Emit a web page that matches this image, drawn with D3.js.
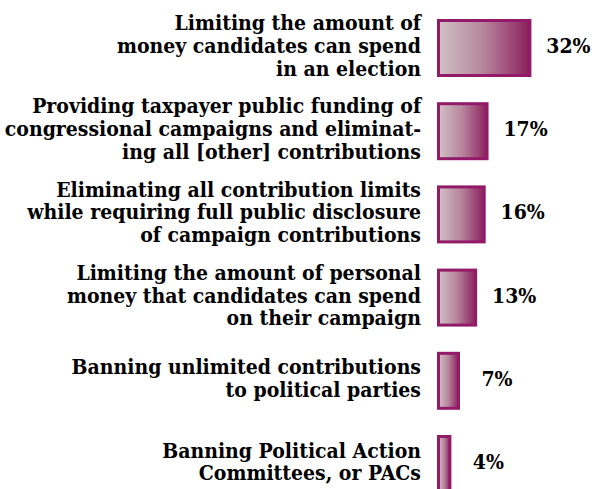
<!DOCTYPE html>
<html>
<head>
<meta charset="utf-8">
<script src="https://cdn.jsdelivr.net/npm/d3@7/dist/d3.min.js"></script>
<style>
  html, body { margin: 0; padding: 0; background: #ffffff; }
  svg { display: block; }
  text { font-family: "DejaVu Serif Condensed", "DejaVu Serif", serif; font-stretch: condensed; font-weight: bold; fill: #000; }
</style>
</head>
<body>
<svg id="chart" width="603" height="489"></svg>
<script>
// ---- data ----
const categories = [
  "Limiting the amount of|money candidates can spend|in an election",
  "Providing taxpayer public funding of|congressional campaigns and eliminat-|ing all [other] contributions",
  "Eliminating all contribution limits|while requiring full public disclosure|of campaign contributions",
  "Limiting the amount of personal|money that candidates can spend|on their campaign",
  "Banning unlimited contributions|to political parties",
  "Banning Political Action|Committees, or PACs"
];
const values = [32, 17, 16, 13, 7, 4];
const valueLabels = ["32%", "17%", "16%", "13%", "7%", "4%"];

// ---- layout ----
const svg = d3.select("#chart");
const barX = 438.5;       // inner left edge of bars
const stroke = 3;
const labelRight = 421;
const lineH = 22.8;
const fontSize = 21;

const x = d3.scaleLinear().domain([0, 32]).range([0, 91.4]);
const y = d3.scaleBand()
  .domain(d3.range(categories.length))
  .range([19, 19 + 5 * 83.2 + 58])
  .paddingInner(0.303)
  .paddingOuter(0);

// gradient
const defs = svg.append("defs");
const grad = defs.append("linearGradient")
  .attr("id", "barGrad")
  .attr("x1", "0%").attr("x2", "100%").attr("y1", "0%").attr("y2", "0%");
grad.append("stop").attr("offset", "0%").attr("stop-color", "#d0c2c5");
grad.append("stop").attr("offset", "50%").attr("stop-color", "#b6849b");
grad.append("stop").attr("offset", "100%").attr("stop-color", "#8b1f5f");

const g = svg.append("g");

const rows = g.selectAll("g.row")
  .data(values.map((v, i) => ({ v, i, cat: categories[i], lab: valueLabels[i] })))
  .join("g")
  .attr("class", "row");

rows.append("rect")
  .attr("x", barX)
  .attr("y", d => y(d.i) + stroke / 2)
  .attr("width", d => x(d.v))
  .attr("height", y.bandwidth() - stroke)
  .attr("fill", "url(#barGrad)")
  .attr("stroke", "#931a68")
  .attr("stroke-width", stroke);

rows.append("text")
  .attr("x", d => barX + x(d.v) + stroke / 2 + 37)
  .attr("y", d => y(d.i) + y.bandwidth() / 2 + 5)
  .attr("text-anchor", "middle")
  .style("font-size", fontSize + "px")
  .text(d => d.lab);

rows.each(function(d) {
  const lines = d.cat.split("|");
  const cy = y(d.i) + y.bandwidth() / 2 + 5;
  const t = d3.select(this).append("text")
    .attr("text-anchor", "end")
    .style("font-size", fontSize + "px");
  lines.forEach((ln, k) => {
    t.append("tspan")
      .attr("x", labelRight)
      .attr("y", cy + (k - (lines.length - 1) / 2) * lineH)
      .text(ln);
  });
});
</script>
</body>
</html>
